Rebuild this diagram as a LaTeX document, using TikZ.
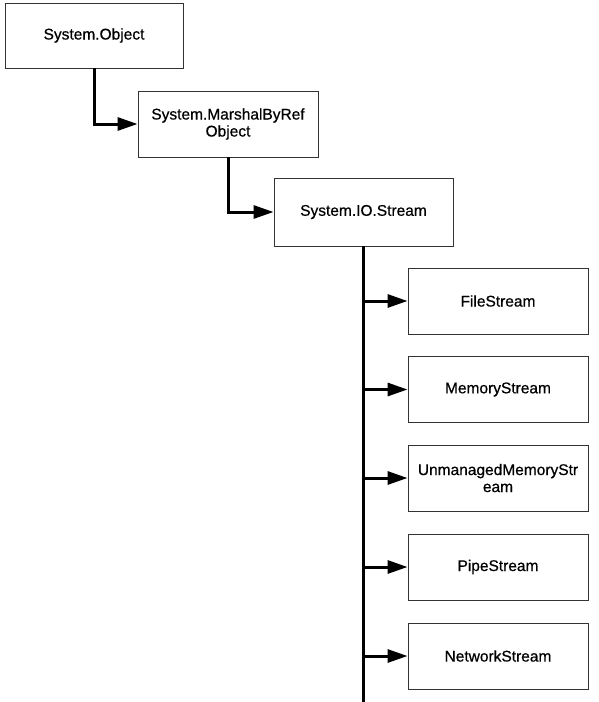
\documentclass[tikz,border=0pt]{standalone}
\usepackage{fontspec}
\setmainfont{Liberation Sans}
\newfontfamily\boxfont[FakeBold=0.6]{Liberation Sans}
\usetikzlibrary{arrows.meta}
\begin{document}
\begin{tikzpicture}[x=1pt,y=-1pt,
  cls/.style={draw=black!80,line width=0.9pt,minimum width=180pt,minimum height=66pt,
    align=center,font=\boxfont\fontsize{15.5}{17}\selectfont,inner sep=0pt},
  wire/.style={line width=3pt},
  link/.style={wire,-{Triangle[length=20pt,width=13pt]}}]
\useasboundingbox (0,0) rectangle (599,702);
\node[cls,minimum width=178pt,minimum height=65pt] (obj) at (94,35.5) {System.Object};
\node[cls] (mbr) at (228,124) {System.MarshalByRef\\Object};
\node[cls,minimum width=179pt,minimum height=68pt] (stream) at (363.5,212) {System.IO.Stream};
\node[cls] (fs) at (498,301) {FileStream};
\node[cls] (ms) at (498,389.5) {MemoryStream};
\node[cls] (ums) at (498,478) {UnmanagedMemoryStr\\eam};
\node[cls] (ps) at (498,567) {PipeStream};
\node[cls] (ns) at (498,656) {NetworkStream};
\coordinate (trunkend) at (363.5,702);
\draw[link] (obj.south) |- (mbr.west);
\draw[link] (mbr.south) |- (stream.west);
\draw[wire] (stream.south) -- (trunkend);
\foreach \c in {fs,ms,ums,ps,ns}
  \draw[link] (stream.south |- \c.west) -- (\c.west);
\end{tikzpicture}
\end{document}
